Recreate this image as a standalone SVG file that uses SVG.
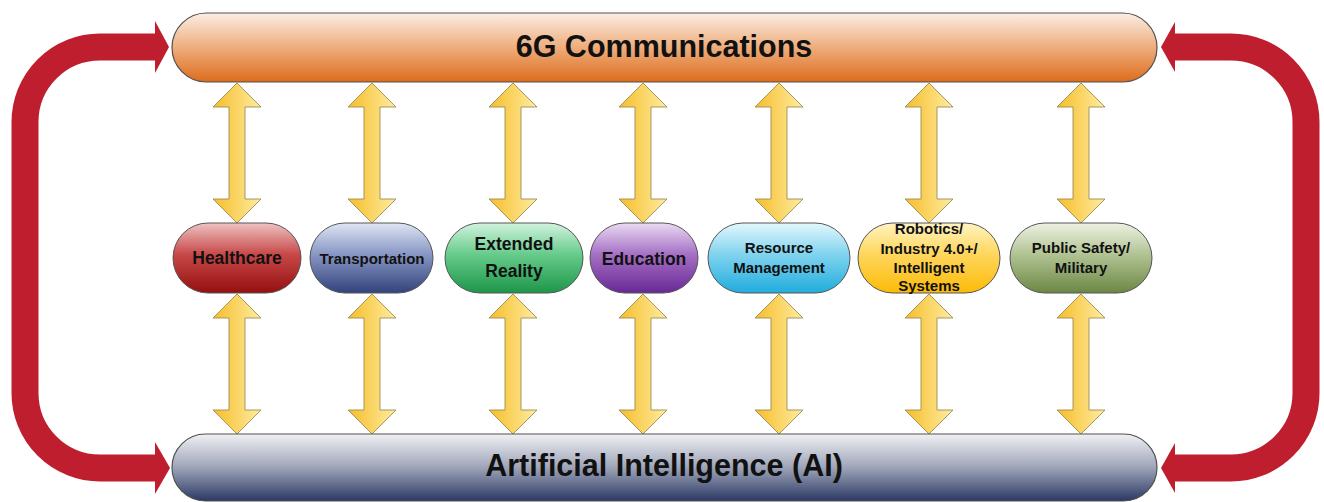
<svg xmlns="http://www.w3.org/2000/svg" xmlns:xlink="http://www.w3.org/1999/xlink" width="1324" height="502" viewBox="0 0 1324 502">
<defs>
<style>
.t{font-family:"Liberation Sans",Arial,sans-serif;font-weight:bold;fill:#111;text-anchor:middle}
.bar{stroke:#505050;stroke-width:1.2}
.node{stroke:#555;stroke-width:1}
.dbl{fill:url(#gY);stroke:#9c8c55;stroke-width:0.9}
.red{fill:none;stroke:#be1e2d;stroke-width:27}
.redh{fill:#be1e2d}
</style>
<linearGradient id="gTop" x1="0" y1="0" x2="0" y2="1"><stop offset="0" stop-color="#fbeee4"/><stop offset="0.5" stop-color="#eead7c"/><stop offset="1" stop-color="#dd6c1c"/></linearGradient>
<linearGradient id="gBot" x1="0" y1="0" x2="0" y2="1"><stop offset="0" stop-color="#f0f1f4"/><stop offset="0.5" stop-color="#9ea4b8"/><stop offset="1" stop-color="#2a3864"/></linearGradient>
<linearGradient id="gY" x1="0" y1="0" x2="1" y2="0"><stop offset="0" stop-color="#f6bd2a"/><stop offset="1" stop-color="#feeca0"/></linearGradient>
<linearGradient id="g1" x1="0" y1="0" x2="0" y2="1"><stop offset="0" stop-color="#efc2c2"/><stop offset="0.45" stop-color="#c74848"/><stop offset="1" stop-color="#950f0f"/></linearGradient>
<linearGradient id="g2" x1="0" y1="0" x2="0" y2="1"><stop offset="0" stop-color="#dfe5f3"/><stop offset="0.45" stop-color="#8796c4"/><stop offset="1" stop-color="#32437c"/></linearGradient>
<linearGradient id="g3" x1="0" y1="0" x2="0" y2="1"><stop offset="0" stop-color="#d2f3de"/><stop offset="0.45" stop-color="#66cb8b"/><stop offset="1" stop-color="#1d9649"/></linearGradient>
<linearGradient id="g4" x1="0" y1="0" x2="0" y2="1"><stop offset="0" stop-color="#eadaf3"/><stop offset="0.45" stop-color="#a570c4"/><stop offset="1" stop-color="#682896"/></linearGradient>
<linearGradient id="g5" x1="0" y1="0" x2="0" y2="1"><stop offset="0" stop-color="#e4f7fd"/><stop offset="0.45" stop-color="#80d3ef"/><stop offset="1" stop-color="#20acdc"/></linearGradient>
<linearGradient id="g6" x1="0" y1="0" x2="0" y2="1"><stop offset="0" stop-color="#fff3c0"/><stop offset="0.45" stop-color="#ffd65c"/><stop offset="1" stop-color="#fbbb08"/></linearGradient>
<linearGradient id="g7" x1="0" y1="0" x2="0" y2="1"><stop offset="0" stop-color="#edf1e2"/><stop offset="0.45" stop-color="#b1c393"/><stop offset="1" stop-color="#6b8744"/></linearGradient>
<polygon id="da" class="dbl" points="0,0 24,24 8,24 8,116 24,116 0,140 -24,116 -8,116 -8,24 -24,24"/>
</defs>
<rect width="1324" height="502" fill="#fff"/>

<g id="connectors">
<path class="red" d="M156,468 H100 A75,75 0 0 1 25,393 V122 A75,75 0 0 1 100,47 H156"/>
<polygon class="redh" points="155,21 169,47 155,73"/>
<polygon class="redh" points="155,442 170,468 155,494"/>
<path class="red" d="M1174,47 H1231 A75,75 0 0 1 1306,122 V393 A75,75 0 0 1 1231,468 H1174"/>
<polygon class="redh" points="1175,22 1161,47 1175,72"/>
<polygon class="redh" points="1175,443 1161,468 1175,493"/>
<use xlink:href="#da" x="237" y="83"/><use xlink:href="#da" x="237" y="294"/>
<use xlink:href="#da" x="372" y="83"/><use xlink:href="#da" x="372" y="294"/>
<use xlink:href="#da" x="513" y="83"/><use xlink:href="#da" x="513" y="294"/>
<use xlink:href="#da" x="643" y="83"/><use xlink:href="#da" x="643" y="294"/>
<use xlink:href="#da" x="779" y="83"/><use xlink:href="#da" x="779" y="294"/>
<use xlink:href="#da" x="929" y="83"/><use xlink:href="#da" x="929" y="294"/>
<use xlink:href="#da" x="1081" y="83"/><use xlink:href="#da" x="1081" y="294"/>
</g>

<g id="comm">
<rect class="bar" x="172" y="13" width="985" height="69" rx="34.5" fill="url(#gTop)"/>
<text class="t" x="664" y="57" font-size="30.5">6G Communications</text>
</g>
<g id="ai">
<rect class="bar" x="172" y="434" width="985" height="67" rx="33.5" fill="url(#gBot)"/>
<text class="t" x="664" y="476" font-size="30.5">Artificial Intelligence (AI)</text>
</g>

<g id="healthcare">
<rect class="node" x="173" y="223" width="128" height="70" rx="35" fill="url(#g1)"/>
<text class="t" x="237" y="264" font-size="17.5">Healthcare</text>
</g>
<g id="transportation">
<rect class="node" x="310" y="223" width="123" height="70" rx="35" fill="url(#g2)"/>
<text class="t" x="372" y="264" font-size="15">Transportation</text>
</g>
<g id="xr">
<rect class="node" x="445" y="223" width="138" height="70" rx="35" fill="url(#g3)"/>
<text class="t" x="514" y="250" font-size="17.5">Extended</text>
<text class="t" x="514" y="277" font-size="17.5">Reality</text>
</g>
<g id="education">
<rect class="node" x="590" y="223" width="108" height="70" rx="35" fill="url(#g4)"/>
<text class="t" x="644" y="265" font-size="17.5">Education</text>
</g>
<g id="resource">
<rect class="node" x="708" y="223" width="142" height="70" rx="35" fill="url(#g5)"/>
<text class="t" x="779" y="253" font-size="15">Resource</text>
<text class="t" x="779" y="273" font-size="15">Management</text>
</g>
<g id="robotics">
<rect class="node" x="858" y="223" width="142" height="70" rx="35" fill="url(#g6)"/>
<text class="t" x="929" y="234" font-size="15">Robotics/</text>
<text class="t" x="929" y="254" font-size="15">Industry 4.0+/</text>
<text class="t" x="929" y="273" font-size="15">Intelligent</text>
<text class="t" x="929" y="291" font-size="15">Systems</text>
</g>
<g id="safety">
<rect class="node" x="1010" y="223" width="142" height="70" rx="35" fill="url(#g7)"/>
<text class="t" x="1081" y="253" font-size="15">Public Safety/</text>
<text class="t" x="1081" y="273" font-size="15">Military</text>
</g>
</svg>
